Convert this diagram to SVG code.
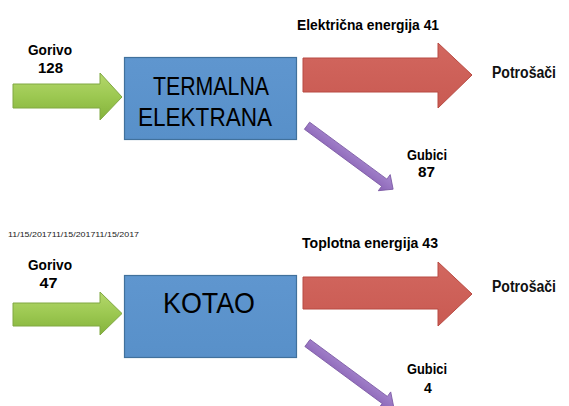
<svg xmlns="http://www.w3.org/2000/svg" width="569" height="406" viewBox="0 0 569 406">
<style>
.lbl{font-family:"Liberation Sans",Arial,sans-serif;font-weight:bold;font-size:14px;fill:#000;text-anchor:middle}
.big{font-family:"Liberation Sans",Arial,sans-serif;fill:#000;text-anchor:middle}
.cons{font-family:"Liberation Sans",Arial,sans-serif;font-weight:bold;font-size:16px;fill:#111}
.box{fill:url(#gBlue);stroke:#41719c;stroke-width:1.2}
.green{fill:url(#gGreen);stroke:#80a843;stroke-width:1}
.red{fill:url(#gRed);stroke:#b84a42;stroke-width:1}
.purple{fill:url(#gPurple);stroke:#7a58a3;stroke-width:0.8}
</style>
<defs>
<linearGradient id="gBlue" x1="0" y1="0" x2="0" y2="1"><stop offset="0" stop-color="#5f96cf"/><stop offset="1" stop-color="#5890c9"/></linearGradient>
<linearGradient id="gGreen" x1="0" y1="0" x2="0" y2="1"><stop offset="0" stop-color="#b5d86c"/><stop offset="0.5" stop-color="#9cc851"/><stop offset="1" stop-color="#84b23b"/></linearGradient>
<linearGradient id="gRed" x1="0" y1="0" x2="0" y2="1"><stop offset="0" stop-color="#d2675f"/><stop offset="1" stop-color="#c95a52"/></linearGradient>
<linearGradient id="gPurple" x1="0" y1="0" x2="0" y2="1"><stop offset="0" stop-color="#a788cf"/><stop offset="1" stop-color="#8a63b5"/></linearGradient>
</defs>
<rect width="569" height="406" fill="#ffffff"/>
<text x="8" y="237" font-family="Liberation Sans,Arial,sans-serif" font-size="8" textLength="131" lengthAdjust="spacingAndGlyphs" fill="#222">11/15/201711/15/201711/15/2017</text>
<g id="connectors">
  <polygon class="green" points="13,84 100,84 100,73 122,97 100,120 100,108 13,108"/>
  <polygon class="red" points="303,58 438,58 438,43 472,75 438,108 438,92 303,92"/>
  <g transform="translate(307,125.7) rotate(36.4)"><polygon class="purple" points="0,-4.4 96,-4.4 96,-10 107,0 96,10 96,4.4 0,4.4"/></g>
  <polygon class="green" points="13,303 100,303 100,292 122,313.5 100,335 100,326 13,326"/>
  <polygon class="red" points="303,277 438,277 438,262 472,294 438,326 438,309 303,309"/>
  <g transform="translate(307.5,343) rotate(36.4)"><polygon class="purple" points="0,-4.4 96,-4.4 96,-10 107,0 96,10 96,4.4 0,4.4"/></g>
  <text class="lbl" x="50" y="55" textLength="44" lengthAdjust="spacingAndGlyphs">Gorivo</text>
  <text class="lbl" x="50.5" y="73" textLength="25" lengthAdjust="spacingAndGlyphs">128</text>
  <text class="lbl" x="368" y="30" textLength="142" lengthAdjust="spacingAndGlyphs">Električna energija 41</text>
  <text class="lbl" x="427" y="160" textLength="40" lengthAdjust="spacingAndGlyphs">Gubici</text>
  <text class="lbl" x="426.5" y="177" textLength="17" lengthAdjust="spacingAndGlyphs">87</text>
  <text class="lbl" x="50" y="270" textLength="44" lengthAdjust="spacingAndGlyphs">Gorivo</text>
  <text class="lbl" x="48.5" y="288" textLength="18" lengthAdjust="spacingAndGlyphs">47</text>
  <text class="lbl" x="370" y="248" textLength="136" lengthAdjust="spacingAndGlyphs">Toplotna energija 43</text>
  <text class="lbl" x="427" y="374" textLength="40" lengthAdjust="spacingAndGlyphs">Gubici</text>
  <text class="lbl" x="428" y="393">4</text>
</g>
<g id="termalna">
  <rect class="box" x="124.5" y="57.5" width="172" height="82"/>
  <text class="big" x="211" y="95" font-size="26" textLength="116" lengthAdjust="spacingAndGlyphs">TERMALNA</text>
  <text class="big" x="205" y="126" font-size="26" textLength="134" lengthAdjust="spacingAndGlyphs">ELEKTRANA</text>
</g>
<g id="kotao">
  <rect class="box" x="124.5" y="275.5" width="172" height="82"/>
  <text class="big" x="209" y="313" font-size="29" textLength="92" lengthAdjust="spacingAndGlyphs">KOTAO</text>
</g>
<g id="potrosaci1"><text class="cons" x="492" y="78" textLength="64" lengthAdjust="spacingAndGlyphs">Potrošači</text></g>
<g id="potrosaci2"><text class="cons" x="492" y="292" textLength="64" lengthAdjust="spacingAndGlyphs">Potrošači</text></g>
</svg>
